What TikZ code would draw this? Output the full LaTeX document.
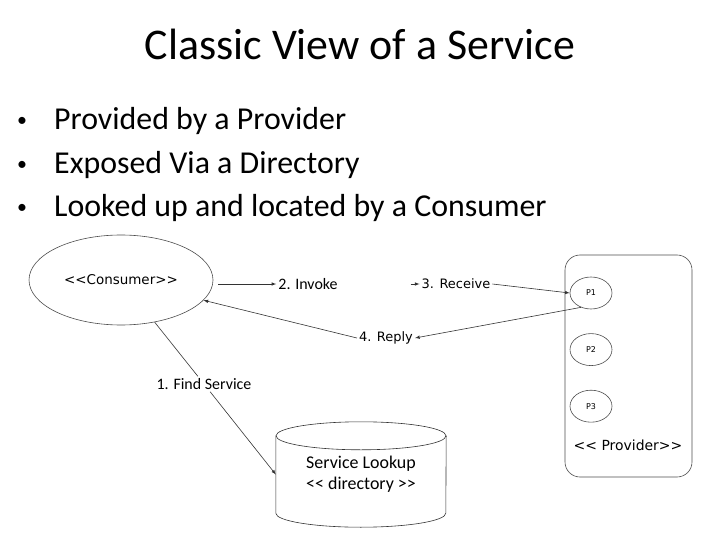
\documentclass[tikz,border=0pt]{standalone}
\usepackage{fontspec}
\setmainfont{Carlito}
\newfontfamily\dvfont{DejaVu Sans}
\usetikzlibrary{positioning,shapes.geometric}
\newcommand\dlt{<\kern0pt<}
\newcommand\dgt{>\kern0pt>}
\newcommand\pointdot{\hbox to 40bp{\hspace{3bp}\raisebox{3bp}{\fontsize{20}{20}\selectfont\textbullet}\hss}}

\begin{document}
\begin{tikzpicture}[
	x=1bp, y=-1bp,
	node distance=24bp,
	role/.style={ellipse, draw=black!70, line width=0.6pt, inner sep=0pt, font=\dvfont\fontsize{13.5}{16}\selectfont},
	proc/.style={ellipse, draw=black!70, line width=0.6pt, minimum width=42bp, minimum height=32bp, inner sep=0pt, font=\dvfont\fontsize{8}{9}\selectfont},
	store/.style={minimum width=170bp, minimum height=105bp, inner sep=0pt, align=center, font=\fontsize{18}{21}\selectfont},
	msg/.style={inner sep=2pt, font=\fontsize{16}{19}\selectfont},
	dvmsg/.style={inner sep=2pt, font=\dvfont\fontsize{13}{16}\selectfont},
	point/.style={anchor=base west, inner sep=0pt, font=\fontsize{32}{38}\selectfont},
	line/.style={draw=black!80, line width=0.6pt},
	arrow/.style={-latex, draw=black!80, line width=0.6pt}
]
\useasboundingbox (0,0) rectangle (720,540);
% title and bullets
\node (title) [anchor=base, inner sep=0pt, font=\fontsize{44}{53}\selectfont] at (360,60) {Classic View of a Service};
\node (pt1) [point] at (14,130) {\pointdot Provided by a Provider};
\node (pt2) [point] at (14,174) {\pointdot Exposed Via a Directory};
\node (pt3) [point] at (14,217) {\pointdot Looked up and located by a Consumer};
% consumer, provider and directory
\node (consumer) [role, minimum width=184bp, minimum height=90bp] at (121,280) {\dlt Consumer\dgt};
\node (provider) [draw=black!70, line width=0.6pt, rounded corners=15bp, minimum width=127bp, minimum height=222bp] at (628.5,366) {};
\node (p1) [proc] at (591,293) {P1};
\node (p2) [proc, below=of p1] {P2};
\node (p3) [proc, below=of p2] {P3};
\node (provlabel) [dvmsg, font=\dvfont\fontsize{14}{16}\selectfont] at (628,445) {\dlt\ Provider\dgt};
\node (lookup) [store] at (361,474.5) {Service Lookup\\\dlt\ directory \dgt};
\draw [line] ([yshift=-14bp]lookup.north) ellipse [x radius=85bp, y radius=14bp];
\draw [line] ([yshift=-14bp]lookup.north west) -- ([yshift=14bp]lookup.south west)
	arc [start angle=180, end angle=360, x radius=85bp, y radius=14bp] -- ([yshift=-14bp]lookup.north east);
% messages
\node (invoke) [msg] at (308,284) {2. Invoke};
\node (receive) [dvmsg] at (456,284) {3. Receive};
\node (reply) [dvmsg] at (386,338) {4. Reply};
\node (find) [msg] at (204,384) {1. Find Service};
\draw [arrow] ([xshift=5bp]consumer.east |- invoke.west) -- (invoke.west);
\draw [arrow] ([xshift=-9bp]receive.west) -- (receive.west);
\draw [arrow] (receive.east) -- (p1.west);
\draw [arrow] (p1.235) -- (reply.east);
\draw [arrow] (reply.west) -- (consumer);
\draw [line] (consumer) -- (find);
\draw [arrow] (find) -- (lookup.west);
\end{tikzpicture}
\end{document}
